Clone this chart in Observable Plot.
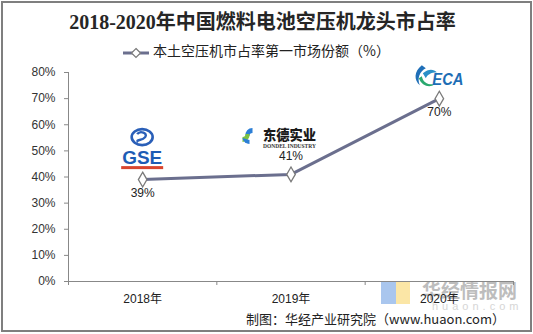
<!DOCTYPE html>
<html>
<head>
<meta charset="utf-8">
<script src="https://cdn.jsdelivr.net/npm/d3@7"></script>
<script src="https://cdn.jsdelivr.net/npm/@observablehq/plot@0.6"></script>
<style>
  html, body { margin: 0; padding: 0; background: #fff; }
  #wrap { position: relative; width: 533px; height: 334px; overflow: hidden; background: #fff; font-family: "Liberation Sans", Arial, "Noto Sans CJK SC", sans-serif; }
  #frame { position: absolute; left: 1px; top: 1px; width: 531px; height: 331px; box-sizing: border-box; border: 2px solid #7f7f7f; pointer-events: none; z-index: 5; }
  #title { position: absolute; left: 0; width: 525px; top: 9px; text-align: center; font-family: "Liberation Serif", "Noto Sans CJK SC", serif; font-weight: bold; font-size: 20px; line-height: 26px; color: #262626; }
  #legend { position: absolute; left: 0; width: 513px; top: 40px; text-align: center; font-size: 14px; line-height: 20px; color: #222; font-family: "Noto Sans CJK SC", sans-serif; }
  #legend svg { vertical-align: -3px; margin-right: 4px; }
  #chart { position: absolute; left: 0; top: 60px; }
  #wm { position: absolute; left: 380px; top: 280px; width: 145px; height: 40px; }
  #caption { position: absolute; right: 28px; top: 310px; font-size: 13px; line-height: 18px; color: #222; font-family: "Noto Sans CJK SC", sans-serif; z-index: 3; }
</style>
</head>
<body>
<div id="wrap">
  <div id="wm">
    <div style="position:absolute;left:1px;top:2px;width:15px;height:22px;background:#a9c6ee;"></div>
    <div style="position:absolute;left:16px;top:2px;width:14px;height:22px;background:#fbe6a6;"></div>
    <div style="position:absolute;left:42px;top:-4px;font-family:'Noto Sans CJK SC',sans-serif;font-weight:bold;font-size:19px;color:#bdbdbd;">华经情报网</div>
    <div style="position:absolute;left:52px;top:20px;font-family:'Liberation Sans',sans-serif;font-size:11px;color:#d6d6d6;letter-spacing:4px;">huaon.com</div>
  </div>
  <div id="chart"></div>
  <div id="title">2018-2020年中国燃料电池空压机龙头市占率</div>
  <div id="legend"><svg width="26" height="12"><line x1="0" y1="6" x2="26" y2="6" stroke="#6b6f8e" stroke-width="3"/><path d="M13,1.5L17.5,6L13,10.5L8.5,6Z" fill="#fff" stroke="#7a7a7a" stroke-width="1.2"/></svg>本土空压机市占率第一市场份额（%）</div>
  <div id="caption">制图：华经产业研究院（www.huaon.com）</div>
  <div id="frame"></div>
</div>
<script>
// ---- data ----
const years = ["2018年", "2019年", "2020年"];
const shares = [39, 41, 70];
const companies = ["GSE", "东德实业", "ECA"];
const yTicks = [0, 10, 20, 30, 40, 50, 60, 70, 80];

const data = years.map((y, k) => ({ i: k + 0.5, year: y, share: shares[k], company: companies[k] }));
const boundaries = d3.range(years.length + 1);

const lineColor = "#6b6f8e";

// logos drawn next to each point, positioned through the plot's scales
function logos(index, scales) {
  const g = d3.create("svg:g");
  data.forEach(d => {
    const x = scales.x(d.i), y = scales.y(d.share);
    if (d.company === "GSE") {
      const lg = g.append("g").attr("transform", `translate(${x},${y})`);
      lg.append("ellipse").attr("cx", 0).attr("cy", -42).attr("rx", 10.5).attr("ry", 8)
        .attr("fill", "none").attr("stroke", "#2a5fb8").attr("stroke-width", 2.6);
      lg.append("path").attr("d", "M-5,-45 C-2,-49 6,-46 3,-42 C0,-38 -7,-40 -4,-37")
        .attr("fill", "none").attr("stroke", "#2a5fb8").attr("stroke-width", 2.4);
      lg.append("text").attr("x", 0).attr("y", -21).attr("text-anchor", "middle").attr("dominant-baseline", "central")
        .attr("font-family", "Liberation Sans, Arial, sans-serif").attr("font-weight", "bold").attr("font-size", 18)
        .attr("fill", "#1d5cb5").attr("textLength", 40).attr("lengthAdjust", "spacingAndGlyphs").text(d.company);
      lg.append("rect").attr("x", -21).attr("y", -13).attr("width", 42).attr("height", 3).attr("fill", "#d8452f");
    } else if (d.company === "东德实业") {
      const lg = g.append("g").attr("transform", `translate(${x},${y})`);
      lg.append("path").attr("d", "M-45,-38 A7,7 0 0 1 -38,-46 L-38,-41 A3,3 0 0 0 -41,-38 Z").attr("fill", "#2c7fd6");
      lg.append("path").attr("d", "M-45,-38 A7,7 0 0 1 -38,-46 L-38,-41 A3,3 0 0 0 -41,-38 Z")
        .attr("transform", "rotate(180,-43,-39)").attr("fill", "#7cc242");
      lg.append("path").attr("d", "M-48,-36 A7,7 0 0 0 -41,-30 L-41,-34 Z").attr("fill", "#2c7fd6");
      lg.append("text").attr("x", -1).attr("y", -40).attr("text-anchor", "middle").attr("dominant-baseline", "central")
        .attr("font-family", "Noto Sans CJK SC, sans-serif").attr("font-weight", 900).attr("font-size", 14)
        .attr("fill", "#1a1a1a").attr("textLength", 53).attr("lengthAdjust", "spacingAndGlyphs").text(d.company);
      lg.append("text").attr("x", -1).attr("y", -28).attr("text-anchor", "middle").attr("dominant-baseline", "central")
        .attr("font-family", "Liberation Serif, serif").attr("font-weight", "bold").attr("font-size", 5.5)
        .attr("fill", "#333").attr("textLength", 53).attr("lengthAdjust", "spacingAndGlyphs").text("DONDEL INDUSTRY");
    } else if (d.company === "ECA") {
      const lg = g.append("g").attr("transform", `translate(${x},${y})`);
      lg.append("path").attr("d", "M-17,-33 C-25,-27 -25,-18 -19,-13 C-22,-20 -19,-27 -13,-30 Z").attr("fill", "#1f6fb8");
      lg.append("path").attr("d", "M-20,-20 C-17,-12 -9,-10 -4,-14 C-11,-13 -16,-16 -17,-22 Z").attr("fill", "#2aa86e");
      lg.append("path").attr("d", "M-16,-25 C-10,-30 -5,-29 -2,-26 C-8,-26 -12,-23 -13,-20 Z").attr("fill", "#2a8fc8");
      lg.append("text").attr("x", 9).attr("y", -19).attr("text-anchor", "middle").attr("dominant-baseline", "central")
        .attr("font-family", "Liberation Sans, Arial, sans-serif").attr("font-weight", "bold").attr("font-style", "italic")
        .attr("font-size", 16).attr("fill", "#1d6db5").attr("textLength", 31).attr("lengthAdjust", "spacingAndGlyphs").text(d.company);
    }
  });
  return g.node();
}

const chart = Plot.plot({
  width: 533,
  height: 274,
  marginTop: 12,
  marginBottom: 53,
  marginLeft: 68,
  marginRight: 20,
  style: { fontFamily: "Liberation Sans, Arial, 'Noto Sans CJK SC', sans-serif", fontSize: "12px", color: "#333", background: "transparent", overflow: "visible" },
  x: { type: "linear", domain: [0, years.length], axis: null, label: null },
  y: { domain: [0, 80], axis: null, label: null },
  marks: [
    Plot.axisY(yTicks, { tickSize: 4, tickPadding: 9, tickFormat: d => d + "%", stroke: "#888", fill: "#333", fontSize: 12, label: null }),
    Plot.ruleX([0], { stroke: "#888" }),
    Plot.ruleY([0], { stroke: "#888" }),
    Plot.axisX(boundaries, { tickSize: 4, tickFormat: () => "", stroke: "#888", label: null }),
    Plot.axisX(data.map(d => d.i), { tickSize: 0, tickPadding: 13, tickFormat: v => years[Math.floor(v)], fill: "#222", fontSize: 12, label: null }),
    Plot.line(data, { x: "i", y: "share", stroke: lineColor, strokeWidth: 3 }),
    Plot.dot(data, { x: "i", y: "share", symbol: "diamond", r: 4.5, fill: "#fff", stroke: "#7a7a7a", strokeWidth: 1.3 }),
    Plot.text(data, { filter: d => d.company !== "东德实业", x: "i", y: "share", text: d => d.share + "%", dy: 14, fill: "#222", fontSize: 12 }),
    Plot.text(data, { filter: d => d.company === "东德实业", x: "i", y: "share", text: d => d.share + "%", dy: -18, fill: "#222", fontSize: 12 }),
    logos
  ]
});
document.getElementById("chart").appendChild(chart);
</script>
</body>
</html>
